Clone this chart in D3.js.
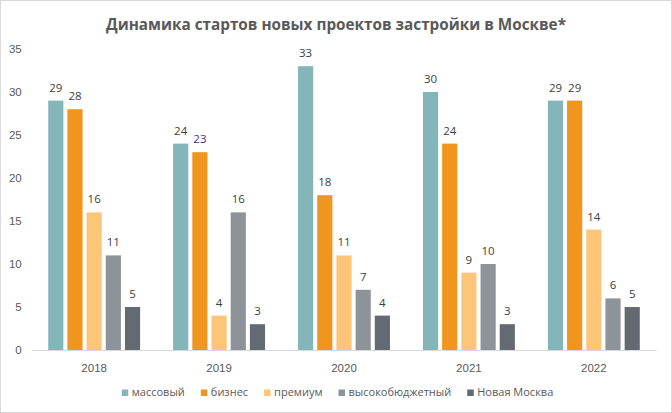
<!DOCTYPE html>
<html>
<head>
<meta charset="utf-8">
<script src="https://cdn.jsdelivr.net/npm/d3@7"></script>
<style>
  html, body { margin: 0; padding: 0; background: #fff; }
  svg { display: block; font-family: "Open Sans", sans-serif; }
</style>
</head>
<body>
<svg id="chart"></svg>
<script>
(function(){

	// data
	var years = ["2018", "2019", "2020", "2021", "2022"];
	var seriesNames = ["массовый", "бизнес", "премиум", "высокобюджетный", "Новая Москва"];
	var massovy = [29, 24, 33, 30, 29];
	var biznes = [28, 23, 18, 24, 29];
	var premium = [16, 4, 11, 9, 14];
	var vysoko = [11, 16, 7, 10, 6];
	var novayaMoskva = [5, 3, 4, 3, 5];
	var yTicks = [0, 5, 10, 15, 20, 25, 30, 35];
	var colors = ["#84B6B9", "#F0951E", "#FCC577", "#8D9399", "#636A72"];

	var seriesValues = [massovy, biznes, premium, vysoko, novayaMoskva];

	// svg config
	var width = 672, height = 413;
	var plotLeft = 31.7, plotRight = 656.3, plotTop = 49, plotBottom = 350;
	var textColor = "#595959";
	var labelSize = "11.5px";

	var svg = d3.select("#chart")
		.attr("width", width)
		.attr("height", height);

	// outer frame
	svg.append("rect")
		.attr("x", 0.5).attr("y", 0.5)
		.attr("width", width - 1).attr("height", height - 1)
		.attr("fill", "#fff")
		.attr("stroke", "#D9D9D9");

	var x0 = d3.scaleBand()
		.domain(years)
		.range([plotLeft, plotRight])
		.paddingInner(0).paddingOuter(0);

	var x1 = d3.scaleBand()
		.domain(seriesNames)
		.range([0, x0.bandwidth()])
		.paddingInner(0.21)
		.paddingOuter(0.86);

	var y = d3.scaleLinear()
		.domain([0, 35])
		.range([plotBottom, plotTop]);

	// title
	svg.append("text")
		.attr("x", 336)
		.attr("y", 30)
		.attr("text-anchor", "middle")
		.attr("font-size", "16.5px")
		.attr("font-weight", "bold")
		.attr("fill", textColor)
		.attr("textLength", 460)
		.attr("lengthAdjust", "spacingAndGlyphs")
		.text("Динамика стартов новых проектов застройки в Москве*");

	// y axis labels, no line
	var yAxis = svg.append("g")
		.attr("transform", "translate(" + (plotLeft - 10) + ",0)")
		.call(d3.axisLeft(y).tickValues(yTicks).tickSize(0).tickPadding(0));
	yAxis.select(".domain").remove();
	yAxis.selectAll("text")
		.attr("font-size", labelSize)
		.attr("font-family", null)
		.attr("fill", textColor);

	// x axis
	var xAxis = svg.append("g")
		.attr("transform", "translate(0," + plotBottom + ")")
		.call(d3.axisBottom(x0).tickSize(0).tickPadding(14));
	xAxis.select(".domain").attr("stroke", "#D9D9D9");
	xAxis.selectAll("text")
		.attr("font-size", labelSize)
		.attr("font-family", null)
		.attr("fill", textColor);

	// rows: one per year
	var rows = years.map(function(yr, i){
		return seriesNames.map(function(s, j){
			return {year: yr, series: s, value: seriesValues[j][i], color: colors[j]};
		});
	});

	var groups = svg.selectAll(".yearGroup")
		.data(rows)
		.enter()
		.append("g")
		.attr("class", "yearGroup")
		.attr("transform", function(d){ return "translate(" + x0(d[0].year) + ",0)"; });

	groups.selectAll("rect")
		.data(function(d){ return d; })
		.enter()
		.append("rect")
		.attr("x", function(d){ return x1(d.series); })
		.attr("y", function(d){ return y(d.value); })
		.attr("width", x1.bandwidth())
		.attr("height", function(d){ return plotBottom - y(d.value); })
		.attr("fill", function(d){ return d.color; });

	groups.selectAll(".valLabel")
		.data(function(d){ return d; })
		.enter()
		.append("text")
		.attr("class", "valLabel")
		.attr("x", function(d){ return x1(d.series) + x1.bandwidth() / 2; })
		.attr("y", function(d){ return y(d.value) - 9; })
		.attr("text-anchor", "middle")
		.attr("font-size", labelSize)
		.attr("fill", "#404040")
		.text(function(d){ return d.value; });

	// legend, centred under the plot
	var legend = svg.append("g").attr("class", "legend");
	var items = legend.selectAll("g")
		.data(seriesNames)
		.enter()
		.append("g");
	items.append("rect")
		.attr("width", 6.5).attr("height", 6.5)
		.attr("y", -6.5)
		.attr("fill", function(d, i){ return colors[i]; });
	items.append("text")
		.attr("x", 10)
		.attr("y", 0)
		.attr("font-size", "11px")
		.attr("fill", textColor)
		.text(function(d){ return d; });

	var cursor = 0;
	items.each(function(){
		var w = 10 + this.querySelector("text").getComputedTextLength();
		d3.select(this).attr("transform", "translate(" + cursor + ",0)");
		cursor += w + 16;
	});
	var legendWidth = cursor - 16;
	legend.attr("transform", "translate(" + (337.5 - legendWidth / 2) + ",396)");

})();
</script>
</body>
</html>
